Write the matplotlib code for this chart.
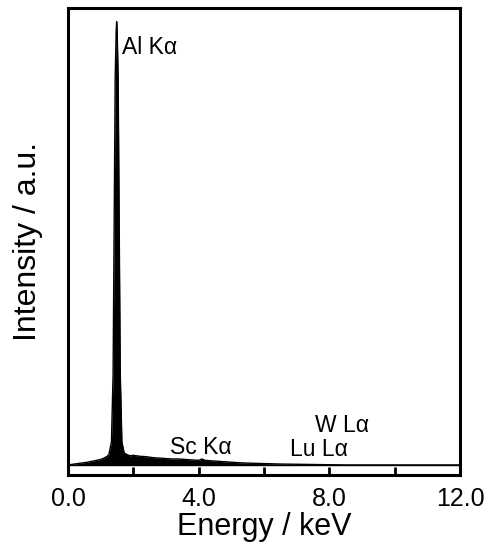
import matplotlib.pyplot as plt

plt.rcParams['font.family'] = ['Liberation Sans', 'DejaVu Sans']

# EDX spectrum (energy in keV, intensity in a.u.)
energy = [0.0, 0.2, 0.4, 0.6, 0.8, 1.0, 1.1, 1.2, 1.25, 1.33, 1.38, 1.40, 1.42,
          1.445, 1.475, 1.49, 1.505, 1.535, 1.56, 1.58, 1.60, 1.65, 1.72,
          1.8, 1.9, 2.0, 2.2, 2.4, 2.6, 2.8, 3.0, 3.2, 3.4, 3.6, 3.8, 4.0,
          4.1, 4.2, 4.4, 4.6, 4.8, 5.0, 5.2, 5.5, 6.0, 6.5, 7.0, 7.5, 8.0,
          8.5, 9.0, 10.0, 11.0, 12.0]
intensity = [0.0, 0.2, 0.4, 0.6, 0.9, 1.2, 1.5, 1.9, 2.3, 5.0, 20.0, 40.0, 60.0,
             85.0, 95.0, 97.0, 95.0, 85.0, 60.0, 40.0, 20.0, 5.0, 2.6,
             2.3, 2.0, 2.1, 1.9, 1.8, 1.6, 1.5, 1.4, 1.3, 1.3, 1.2, 1.1, 1.0,
             1.3, 1.0, 0.9, 0.8, 0.7, 0.6, 0.5, 0.4, 0.3, 0.2, 0.15, 0.1, 0.05,
             0.0, 0.0, 0.0, 0.0, 0.0]

peak_labels = ['Al K\u03b1', 'Sc K\u03b1', 'Lu L\u03b1', 'W L\u03b1']
label_x = [1.65, 3.12, 6.79, 7.55]
label_y = [89.9, 2.5, 2.0, 7.2]

fig = plt.figure(figsize=(4.93, 5.47), dpi=100)
ax = fig.add_axes([68 / 493, 72 / 547, 392 / 493, 467 / 547])

ax.fill_between(energy, 0, intensity, color='black', lw=0)
ax.plot(energy, intensity, color='black', lw=1.0)
ax.axhline(0, color='black', lw=1.0)

for lab, lx, ly in zip(peak_labels, label_x, label_y):
    ax.text(lx, ly, lab, fontsize=16.5, ha='left', va='baseline')

ax.set_xlim(0, 12)
ax.set_ylim(-2.2, 100)
ax.set_xticks([0, 4, 8, 12])
ax.set_xticklabels(['0.0', '4.0', '8.0', '12.0'], fontsize=18)
ax.set_xticks([2, 6, 10], minor=True)
ax.tick_params(axis='x', which='both', direction='in', length=6, width=2, pad=9)
ax.set_yticks([])
for s in ax.spines.values():
    s.set_linewidth(2.2)

ax.set_xlabel('Energy / keV', fontsize=22, labelpad=0)
ax.set_ylabel('Intensity / a.u.', fontsize=23, labelpad=18)

fig.savefig('out.png', dpi=100)
